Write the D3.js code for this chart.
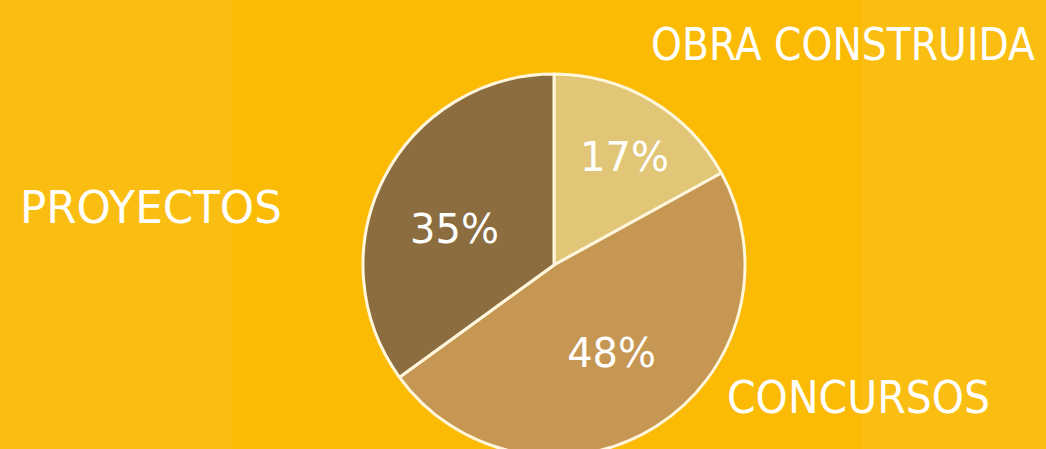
<!DOCTYPE html>
<html>
<head>
<meta charset="utf-8">
<script src="https://cdn.jsdelivr.net/npm/d3@7"></script>
<style>
  html, body { margin: 0; padding: 0; background: #fbba04; overflow: hidden; }
  svg { display: block; }
</style>
</head>
<body>
<script>
const width = 1046;
const height = 449;

// Données du graphique
const categories = ["OBRA CONSTRUIDA", "CONCURSOS", "PROYECTOS"];
const values = [17, 48, 35];
const percentLabels = ["17%", "48%", "35%"];
const sliceColors = ["#e2c677", "#c69653", "#8b6d40"];

// Position des étiquettes de catégorie (mise en page)
const categoryLayout = [
    { x: 651, y: 60, w: 384 },
    { x: 727, y: 413, w: 263 },
    { x: 20, y: 223, w: 262 }
];
// Décalages manuels des pourcentages
const pctOffsets = [[12, -9], [-4, -10], [3, 16]];

const svg = d3.select("body")
    .append("svg")
    .attr("width", width)
    .attr("height", height);

// Fond jaune avec bandes légères
svg.append("rect")
    .attr("width", width).attr("height", height)
    .attr("fill", "#fbba04");
svg.append("rect")
    .attr("width", 232).attr("height", height)
    .attr("fill", "#fabd12");
svg.append("rect")
    .attr("x", 862).attr("width", width - 862).attr("height", height)
    .attr("fill", "#fabd12");

const cx = 554, cy = 265, radius = 191;

const pie = d3.pie().sort(null).value(d => d);
const arcs = pie(values);

const arc = d3.arc().innerRadius(0).outerRadius(radius);
const labelArc = d3.arc().innerRadius(115).outerRadius(115);

const g = svg.append("g")
    .attr("transform", `translate(${cx}, ${cy})`);

g.selectAll("path")
    .data(arcs)
    .enter()
    .append("path")
    .attr("d", arc)
    .attr("fill", (d, i) => sliceColors[i])
    .attr("stroke", "#fff6dc")
    .attr("stroke-width", 3)
    .attr("stroke-linejoin", "round");

// Pourcentages dans les parts
g.selectAll("text.pct")
    .data(arcs)
    .enter()
    .append("text")
    .attr("class", "pct")
    .attr("transform", (d, i) => {
        const c = labelArc.centroid(d);
        return `translate(${c[0] + pctOffsets[i][0]}, ${c[1] + pctOffsets[i][1]})`;
    })
    .attr("text-anchor", "middle")
    .attr("dy", "0.36em")
    .attr("font-family", "DejaVu Sans, sans-serif")
    .attr("font-size", "40px")
    .attr("fill", "#ffffff")
    .text((d, i) => percentLabels[i]);

// Étiquettes des catégories (compressées horizontalement pour tenir la largeur)
svg.selectAll("text.cat")
    .data(categories)
    .enter()
    .append("text")
    .attr("class", "cat")
    .attr("font-family", "DejaVu Sans, sans-serif")
    .attr("font-size", "44px")
    .attr("fill", "#ffffff")
    .text(d => d)
    .each(function (d, i) {
        const L = categoryLayout[i];
        const k = L.w / this.getComputedTextLength();
        d3.select(this)
            .attr("transform", `translate(${L.x}, ${L.y}) scale(${k}, 1)`);
    });
</script>
</body>
</html>
